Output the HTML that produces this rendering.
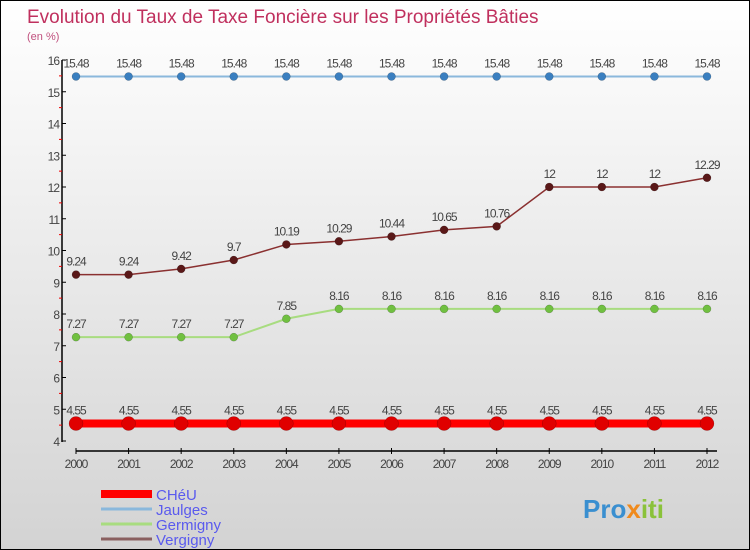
<!DOCTYPE html>
<html><head><meta charset="utf-8"><style>
body{margin:0}
#c{width:750px;height:550px;position:relative;overflow:hidden;box-sizing:border-box;border:1px solid #000;background:linear-gradient(#ffffff,#d3d3d3);font-family:"Liberation Sans",sans-serif}
</style></head><body>
<div id="c">
<svg id="s" width="750" height="550" style="position:absolute;left:0;top:0">
<text x="26" y="22" font-size="19" fill="#c0305e">Evolution du Taux de Taxe Foncière sur les Propriétés Bâties</text>
<text x="26" y="39" font-size="11" fill="#c0507e">(en %)</text>
<text x="582" y="517" font-size="26" font-weight="bold" fill="#3a8fd0">Pro<tspan fill="#f08a1c">x</tspan><tspan fill="#8ac23a">iti</tspan></text>
</svg>
</div>
<script>
const years=[2000,2001,2002,2003,2004,2005,2006,2007,2008,2009,2010,2011,2012];
const yTicks=[4,5,6,7,8,9,10,11,12,13,14,15,16];
const cheu=[4.55,4.55,4.55,4.55,4.55,4.55,4.55,4.55,4.55,4.55,4.55,4.55,4.55];
const jaulges=[15.48,15.48,15.48,15.48,15.48,15.48,15.48,15.48,15.48,15.48,15.48,15.48,15.48];
const germigny=[7.27,7.27,7.27,7.27,7.85,8.16,8.16,8.16,8.16,8.16,8.16,8.16,8.16];
const vergigny=[9.24,9.24,9.42,9.7,10.19,10.29,10.44,10.65,10.76,12,12,12,12.29];
const NS='http://www.w3.org/2000/svg';
const svg=document.getElementById('s');
const X=i=>75+i*(706-75)/(years.length-1);
const Y=v=>440-(v-4)*(381/12);
function mk(t,a,name){const e=document.createElementNS(NS,t);for(const k in a)e.setAttribute(k,a[k]);


svg.appendChild(e);return e;}
mk('line',{x1:61,y1:Y(16),x2:61,y2:441,stroke:'#000','stroke-width':1.5},'y-axis');
yTicks.forEach(v=>{mk('line',{x1:61,y1:Y(v),x2:65,y2:Y(v),stroke:'#000'},'y-tick');
const t=mk('text',{x:58,y:Y(v)+5,'font-size':12,fill:'#444','text-anchor':'end','letter-spacing':'-1'},'y-tick-label');t.textContent=v;
if(v<16)mk('line',{x1:58,y1:Y(v+0.5),x2:61,y2:Y(v+0.5),stroke:'#e00'},'y-minor-tick');});
mk('line',{x1:75,y1:450,x2:716,y2:450,stroke:'#000','stroke-width':1.5},'x-axis');
years.forEach((y,i)=>{mk('line',{x1:X(i),y1:447,x2:X(i),y2:453,stroke:'#000'},'x-tick');
const t=mk('text',{x:X(i),y:467,'font-size':12,fill:'#444','text-anchor':'middle','letter-spacing':'-1'},'x-tick-label');t.textContent=y;});
function series(d,col,dot,w,r,name){
mk('polyline',{points:d.map((v,i)=>X(i)+','+Y(v)).join(' '),fill:'none',stroke:col,'stroke-width':w},name+'-line');
d.forEach((v,i)=>{mk('circle',{cx:X(i),cy:Y(v),r:r,fill:dot,stroke:'rgba(0,0,0,0.3)','stroke-width':0.5},name+'-point');
const t=mk('text',{x:X(i),y:Y(v)-9,'font-size':12,fill:'#444','text-anchor':'middle','letter-spacing':'-1'},name+'-value-label');t.textContent=v;});}
series(jaulges,'#8ab8dc','#3a7fc0',2,4,'jaulges');
series(vergigny,'#8a3030','#5a1818',1.5,4,'vergigny');
series(germigny,'#a8dc80','#70c040',2,4,'germigny');
series(cheu,'#ff0000','#e00000',8,7,'cheu');
const leg=[['CHéU','#ff0000',8],['Jaulges','#8ab8dc',3],['Germigny','#a8dc80',3],['Vergigny','#8a6060',3]];
leg.forEach((l,i)=>{const y=493+i*15;
mk('line',{x1:100,y1:y,x2:151,y2:y,stroke:l[1],'stroke-width':l[2]},'legend-swatch');
const t=mk('text',{x:155,y:y+6,'font-size':15,fill:'#5a5aee'},'legend-entry');t.textContent=l[0];});
</script>
</body></html>
